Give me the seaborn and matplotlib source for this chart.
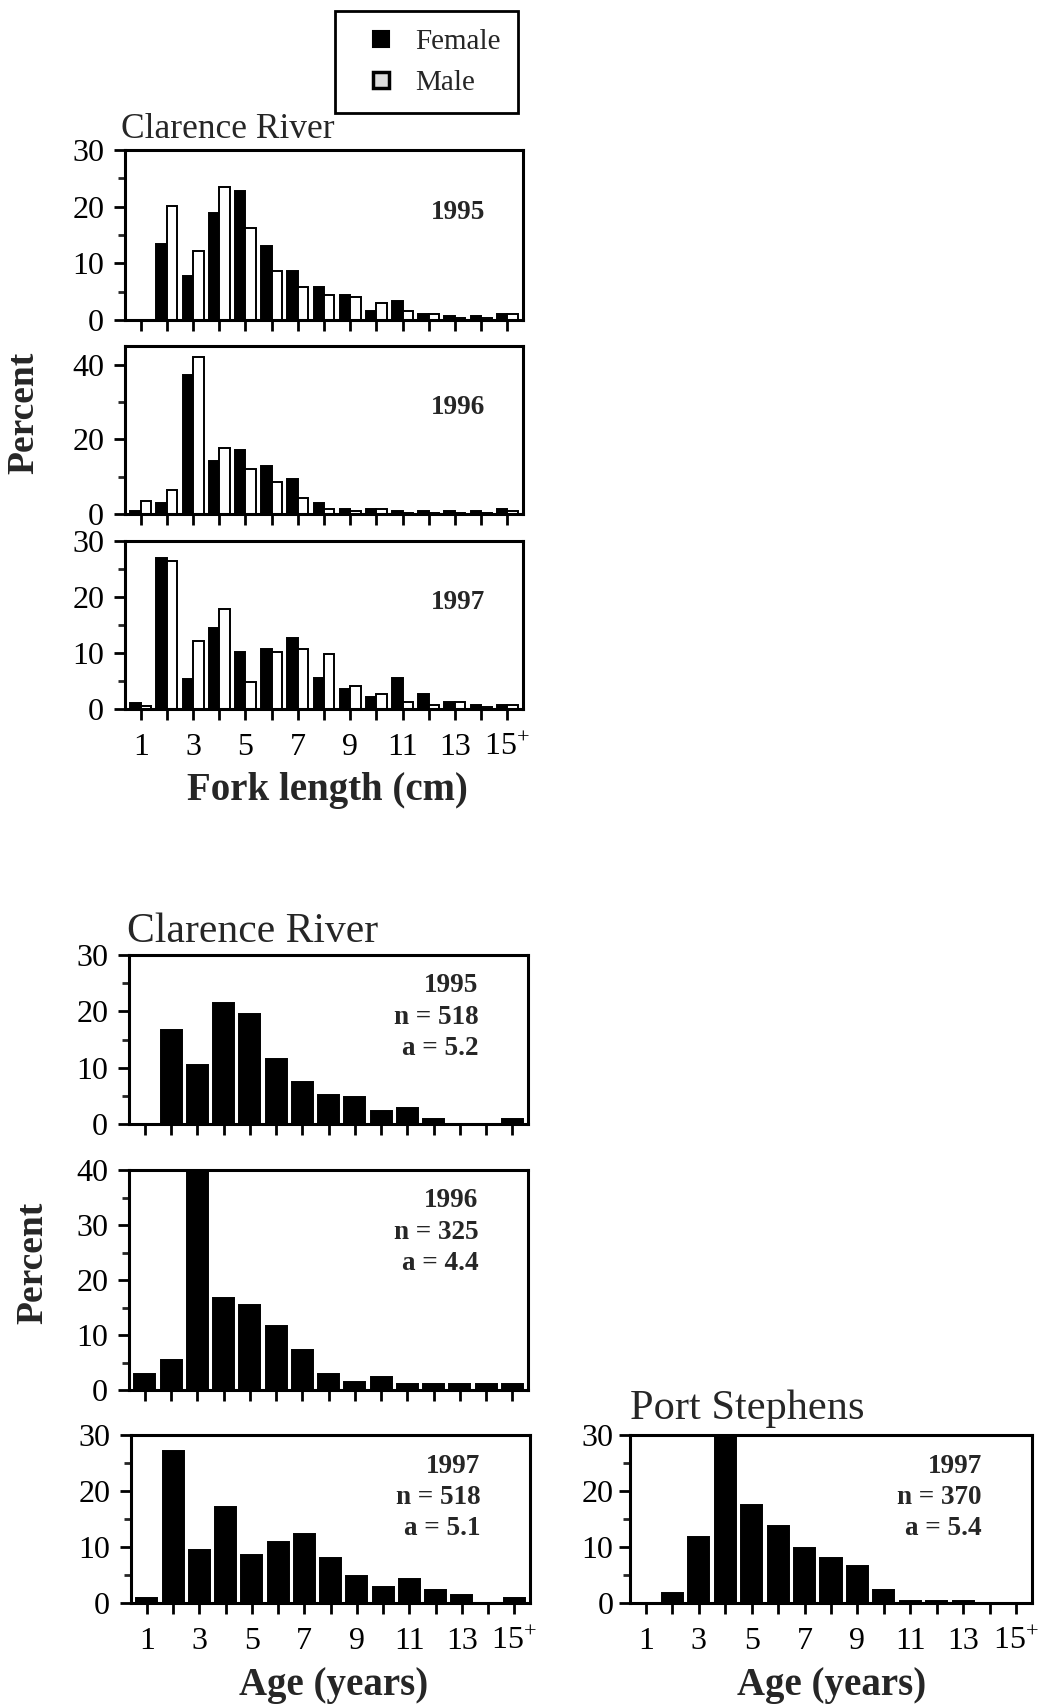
import numpy as np
import pandas as pd
import matplotlib
matplotlib.use('Agg')
import matplotlib.pyplot as plt
from matplotlib.lines import Line2D
from matplotlib.ticker import MultipleLocator
import seaborn as sns

# ---- data (percent per class) ----
classes = [str(i) for i in range(1, 16)]
xtick_labels = ['1', '', '3', '', '5', '', '7', '', '9', '', '11', '', '13', '',
                r'$\mathregular{15^{+}}$']

# Clarence River, fork length classes
fl_1995_female = [0, 13.5, 7.7, 18.8, 22.7, 13.1, 8.7, 5.9, 4.5, 1.6, 3.4, 1.1, 0.7, 0.7, 1.1]
fl_1995_male = [0, 20.2, 12.1, 23.5, 16.3, 8.7, 5.9, 4.5, 4.0, 3.0, 1.6, 1.0, 0.3, 0.3, 1.1]
fl_1996_female = [0.7, 2.9, 37.1, 14.3, 17.1, 12.9, 9.3, 2.9, 1.3, 1.3, 0.7, 0.7, 0.7, 0.7, 1.3]
fl_1996_male = [3.4, 6.3, 42.1, 17.8, 12.1, 8.6, 4.3, 1.4, 0.7, 1.3, 0.3, 0.3, 0.3, 0.3, 0.7]
fl_1997_female = [1.1, 27.0, 5.4, 14.5, 10.2, 10.7, 12.6, 5.5, 3.6, 2.1, 5.5, 2.7, 1.2, 0.7, 0.7]
fl_1997_male = [0.6, 26.5, 12.1, 17.9, 4.9, 10.2, 10.7, 9.8, 4.1, 2.7, 1.2, 0.7, 1.2, 0.3, 0.7]

# age classes
age_cr_1995 = [0, 16.6, 10.4, 21.5, 19.5, 11.5, 7.5, 5.2, 4.8, 2.3, 2.8, 0.8, 0, 0, 0.8]
age_cr_1996 = [3.0, 5.4, 42.0, 16.8, 15.4, 11.7, 7.3, 3.0, 1.5, 2.4, 1.1, 1.1, 1.1, 1.1, 1.1]
age_cr_1997 = [0.9, 27.1, 9.5, 17.1, 8.5, 10.9, 12.3, 8.1, 4.8, 2.8, 4.2, 2.4, 1.5, 0, 0.9]
age_ps_1997 = [0, 1.8, 11.8, 31.0, 17.5, 13.7, 9.9, 8.0, 6.6, 2.3, 0.3, 0.3, 0.3, 0, 0]

age_notes = {
    'cr1995': '1995\nn = 518\na = 5.2',
    'cr1996': '1996\nn = 325\na = 4.4',
    'cr1997': '1997\nn = 518\na = 5.1',
    'ps1997': '1997\nn = 370\na = 5.4',
}

W, H = 1050, 1704

sns.set_style('ticks')
plt.rcParams['font.family'] = ['Liberation Serif', 'DejaVu Serif']
plt.rcParams['mathtext.fontset'] = 'custom'
plt.rcParams['mathtext.rm'] = 'Liberation Serif'

fig = plt.figure(figsize=(W / 100, H / 100), dpi=100)


def add_ax(x0, y0, x1, y1):
    # pixel box (top-left origin) -> figure fraction
    return fig.add_axes([x0 / W, 1 - y1 / H, (x1 - x0) / W, (y1 - y0) / H])


def style_ax(ax, ymax, major, minor, show_xlabels, ypad=7):
    ax.set_xlim(-0.6, 14.6)
    ax.set_ylim(0, ymax)
    ax.yaxis.set_major_locator(MultipleLocator(major))
    ax.yaxis.set_minor_locator(MultipleLocator(minor))
    ax.set_xticks(range(15))
    ax.set_xticklabels(xtick_labels if show_xlabels else [''] * 15)
    ax.tick_params(axis='both', which='major', direction='out', length=8, width=2,
                   labelsize=23, colors='black')
    ax.tick_params(axis='x', pad=9)
    ax.tick_params(axis='y', pad=ypad)
    ax.tick_params(axis='y', which='minor', direction='out', length=5, width=2)
    for s in ax.spines.values():
        s.set_visible(True)
        s.set_linewidth(2.2)
        s.set_color('black')
    ax.set_xlabel('')
    ax.set_ylabel('')


def fork_panel(ax, female, male, year, ymax, major, minor, show_xlabels):
    df = pd.DataFrame({'cls': classes * 2,
                       'sex': ['Female'] * 15 + ['Male'] * 15,
                       'pct': female + male})
    sns.barplot(data=df, x='cls', y='pct', hue='sex', order=classes,
                hue_order=['Female', 'Male'],
                palette={'Female': 'black', 'Male': 'white'},
                saturation=1, width=0.8, edgecolor='black', linewidth=1.4,
                errorbar=None, legend=False, ax=ax)
    style_ax(ax, ymax, major, minor, show_xlabels)
    ax.text(0.837, 0.635, year, transform=ax.transAxes, ha='center', va='center',
            fontsize=19.5, fontweight='bold')


def age_panel(ax, values, note, ymax, major, minor, show_xlabels, ty, ypad=7):
    sns.barplot(x=classes, y=values, order=classes, color='black', saturation=1,
                width=0.8, edgecolor='black', linewidth=1.4, errorbar=None, ax=ax)
    style_ax(ax, ymax, major, minor, show_xlabels, ypad)
    ax.text(0.875, ty, note, transform=ax.transAxes, ha='right', va='center',
            multialignment='right', fontsize=19.5, fontweight='bold', linespacing=1.32)


# ---- fork length panels ----
ax1 = add_ax(125, 150, 523, 320)
fork_panel(ax1, fl_1995_female, fl_1995_male, '1995', 30, 10, 5, False)
ax2 = add_ax(125, 346, 523, 514)
fork_panel(ax2, fl_1996_female, fl_1996_male, '1996', 45, 20, 10, False)
ax3 = add_ax(125, 541, 523, 709)
fork_panel(ax3, fl_1997_female, fl_1997_male, '1997', 30, 10, 5, True)

fig.text(121 / W, 1 - 129 / H, 'Clarence River', fontsize=25.5, va='center', ha='left')
fig.text(327 / W, 1 - 791 / H, 'Fork length (cm)', fontsize=28, fontweight='bold',
         ha='center', va='center')
fig.text(24 / W, 1 - 413 / H, 'Percent', fontsize=27, fontweight='bold',
         rotation=90, ha='center', va='center')

legend_handles = [
    Line2D([], [], linestyle='none', marker='s', markersize=11,
           markerfacecolor='black', markeredgecolor='black', markeredgewidth=1.5,
           label='Female'),
    Line2D([], [], linestyle='none', marker='s', markersize=11,
           markerfacecolor='#dcdcdc', markeredgecolor='black', markeredgewidth=2.5,
           label='Male'),
]
leg = fig.legend(handles=legend_handles, loc='upper left',
                 bbox_to_anchor=(335 / W, 1 - 11 / H), fontsize=21, frameon=True,
                 fancybox=False, edgecolor='black', framealpha=1,
                 handlelength=1.95, handletextpad=0.2,
                 labelspacing=0.5, borderpad=0.6, borderaxespad=0)
leg.get_frame().set_linewidth(2)

# ---- age panels ----
ax4 = add_ax(129, 955, 528, 1124)
age_panel(ax4, age_cr_1995, age_notes['cr1995'], 30, 10, 5, False, 0.633)
ax5 = add_ax(129, 1170, 528, 1390)
age_panel(ax5, age_cr_1996, age_notes['cr1996'], 40, 10, 5, False, 0.718)
ax6 = add_ax(131, 1435, 530, 1603)
age_panel(ax6, age_cr_1997, age_notes['cr1997'], 30, 10, 5, True, 0.63)
ax7 = add_ax(630, 1435, 1032, 1603)
age_panel(ax7, age_ps_1997, age_notes['ps1997'], 30, 10, 5, True, 0.63, ypad=4)

fig.text(127 / W, 1 - 932 / H, 'Clarence River', fontsize=30, va='center', ha='left')
fig.text(630 / W, 1 - 1409 / H, 'Port Stephens', fontsize=30.5, va='center', ha='left')
fig.text(334 / W, 1 - 1685 / H, 'Age (years)', fontsize=28, fontweight='bold',
         ha='center', va='center')
fig.text(832 / W, 1 - 1685 / H, 'Age (years)', fontsize=28, fontweight='bold',
         ha='center', va='center')
fig.text(33 / W, 1 - 1263 / H, 'Percent', fontsize=27, fontweight='bold',
         rotation=90, ha='center', va='center')

fig.savefig('out.png', dpi=100, facecolor='white')
